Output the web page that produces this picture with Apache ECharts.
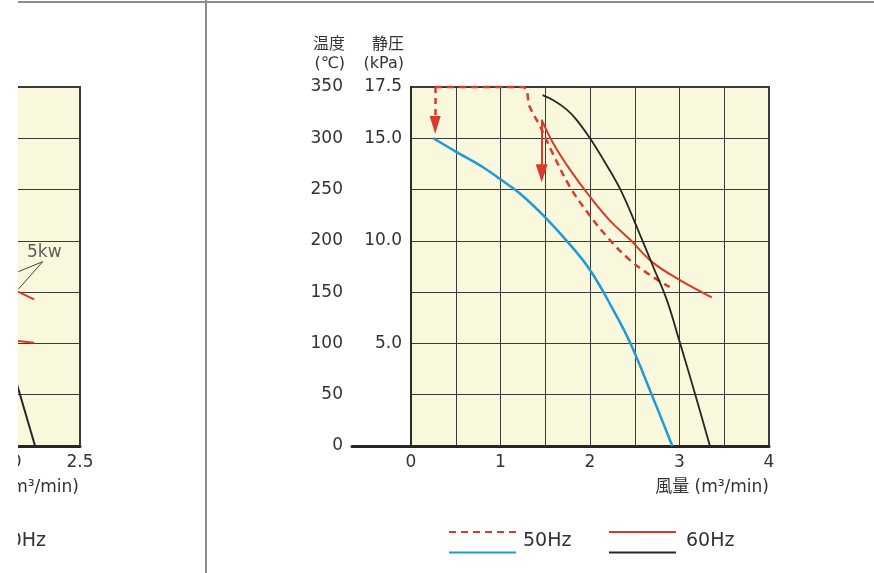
<!DOCTYPE html>
<html><head><meta charset="utf-8">
<script src="https://cdn.jsdelivr.net/npm/echarts@6/dist/echarts.min.js"></script>
<style>html,body{margin:0;padding:0;background:#fff}#c{width:874px;height:573px}</style>
</head><body><div id="c"></div>
<script>
// ---- tick labels ----
const xTicks = [0, 1, 2, 3, 4];
const tempTicks = [0, 50, 100, 150, 200, 250, 300, 350];
const pressTicks = [5, 10, 15, 17.5];

// ---- main chart data: [風量 m3/min, value] ----
// 50Hz temperature (red dashed, °C)
const temp50 = [[0.27,350],[1.24,350],[1.33,330],[1.44,312],[1.59,284],[1.78,252],[1.97,228],[2.19,204],[2.45,181],[2.70,165],[2.89,155]];
// 60Hz temperature (red solid, °C)
const temp60 = [[1.46,318],[1.59,295],[1.78,269],[2.0,243],[2.22,220],[2.45,201],[2.70,179],[3.0,162],[3.36,145]];
// 50Hz static pressure (blue, kPa)
const press50 = [[0.25,15.0],[0.5,14.35],[0.8,13.6],[1.0,13.0],[1.22,12.3],[1.5,11.15],[1.75,9.95],[2.0,8.58],[2.26,6.63],[2.45,5.02],[2.7,2.39],[2.92,0]];
// 60Hz static pressure (black, kPa)
const press60 = [[1.47,17.1],[1.59,16.85],[1.74,16.4],[1.85,15.9],[2.0,15.0],[2.15,13.95],[2.34,12.5],[2.53,10.6],[2.7,8.8],[2.86,7.1],[3.0,5.1],[3.17,2.6],[3.34,0]];
// arrows (annotation lines)
const arrow50 = [[0.27,350],[0.27,313]];
const arrow60 = [[1.46,318],[1.46,266]];

// ---- neighbouring (cut-off) chart on the left ----
const leftX = [2.0, 2.5];
const leftBlack = [[2.04,71],[2.188,0]];
const leftRedA = [[2.069,150.5],[2.181,143]];
const leftRedB = [[2.069,102.4],[2.181,100.7]];
const leftLeader = [[2.0715,169.9],[2.241,179.7],[2.0715,152.8]];
const leftLabel = [[2.252,189,'5kw']];

const CJK = '"Noto Sans CJK JP","Noto Sans",sans-serif';
const NUM = '"DejaVu Sans","Noto Sans CJK JP",sans-serif';
const RED = '#d83b2b', BLUE = '#1e9bd7', BLACK = '#262626', GRIDC = '#3a3a3a', BG = '#f9f7dc', TXT = '#333';

const chart = echarts.init(document.getElementById('c'));
const titleStyle = (fs) => ({ fontFamily: NUM, fontSize: fs, fontWeight: 'normal', color: TXT });
const option = {
  animation: false,
  backgroundColor: '#fff',
  textStyle: { fontFamily: NUM },
  grid: [
    { left: 411, right: 105, top: 87, bottom: 127, show: true, backgroundColor: BG, borderColor: GRIDC, borderWidth: 2, outerBoundsMode: 'none' },
    { left: 352, width: 59, top: 87, bottom: 127, outerBoundsMode: 'none' },
    { left: 8, width: 72, top: 87, bottom: 127, show: true, backgroundColor: BG, borderColor: GRIDC, borderWidth: 2, outerBoundsMode: 'none' }
  ],
  title: [
    { text: '50Hz', left: 523, top: 532, padding: 0, textStyle: titleStyle(19) },
    { text: '60Hz', left: 686, top: 532, padding: 0, textStyle: titleStyle(19) },
    { text: '風量 (m³/min)', right: 795, top: 479, padding: 0, textStyle: titleStyle(17) },
    { text: '60Hz', right: 828, top: 532, padding: 0, textStyle: titleStyle(19) }
  ],
  legend: [
    { left: 443, top: 520, orient: 'vertical', itemWidth: 67, itemHeight: 14, itemGap: 8, data: ['50Hz 温度', '50Hz 静圧'],
      formatter: () => '', selectedMode: false, itemStyle: { opacity: 0 } },
    { left: 603, top: 520, orient: 'vertical', itemWidth: 67, itemHeight: 14, itemGap: 8, data: ['60Hz 温度', '60Hz 静圧'],
      formatter: () => '', selectedMode: false, itemStyle: { opacity: 0 } }
  ],
  xAxis: [
    { gridIndex: 0, type: 'value', min: 0, max: 4, interval: 0.5,
      axisLine: { show: true, lineStyle: { color: '#262626', width: 3 } },
      axisTick: { show: false },
      axisLabel: { formatter: v => xTicks.includes(v) ? String(v) : '', fontSize: 17, color: TXT, margin: 8, fontFamily: NUM },
      splitLine: { show: true, lineStyle: { color: GRIDC, width: 1 } },
      name: '風量 (m³/min)', nameLocation: 'end', nameGap: 0,
      nameTextStyle: { align: 'right', verticalAlign: 'top', padding: [33, 0, 0, 0], fontSize: 17, color: TXT, fontFamily: NUM } },
    { gridIndex: 1, type: 'value', min: 0, max: 1,
      axisLine: { show: true, lineStyle: { color: '#262626', width: 3 } },
      axisTick: { show: false }, axisLabel: { show: false }, splitLine: { show: false } },
    { gridIndex: 2, type: 'value', min: leftX[0], max: leftX[1], interval: 0.5,
      axisLine: { show: true, lineStyle: { color: '#262626', width: 3 } },
      axisTick: { show: false },
      axisLabel: { formatter: v => v.toFixed(1), fontSize: 17, color: TXT, margin: 8, fontFamily: NUM, showMinLabel: true, showMaxLabel: true, hideOverlap: false },
      splitLine: { show: false } }
  ],
  yAxis: [
    { gridIndex: 0, type: 'value', position: 'left', offset: 59, min: 0, max: 350, interval: 50,
      axisLine: { show: true, lineStyle: { color: '#2a2a2a', width: 2 } },
      axisTick: { show: false },
      axisLabel: { formatter: v => tempTicks.includes(v) ? String(v) : '', fontSize: 17, color: TXT, margin: 9, fontFamily: NUM },
      splitLine: { show: true, lineStyle: { color: GRIDC, width: 1 } },
      name: '温度\n(℃)', nameLocation: 'end', nameGap: 14,
      nameTextStyle: { align: 'right', verticalAlign: 'bottom', fontSize: 16, lineHeight: 19, color: TXT, fontFamily: NUM, padding: [0, 66, 0, 0] } },
    { gridIndex: 0, type: 'value', position: 'left', offset: 0, min: 0, max: 17.5, interval: 2.5,
      axisLine: { show: false }, axisTick: { show: false },
      axisLabel: { formatter: v => pressTicks.includes(v) ? v.toFixed(1) : '', fontSize: 17, color: TXT, margin: 9, fontFamily: NUM },
      splitLine: { show: false },
      name: '静圧\n(kPa)', nameLocation: 'end', nameGap: 14,
      nameTextStyle: { align: 'right', verticalAlign: 'bottom', fontSize: 16, lineHeight: 19, color: TXT, fontFamily: NUM, padding: [0, 7, 0, 0] } },
    { gridIndex: 1, type: 'value', show: false, min: 0, max: 1 },
    { gridIndex: 2, type: 'value', min: 0, max: 350, interval: 50,
      axisLine: { show: false }, axisTick: { show: false }, axisLabel: { show: false },
      splitLine: { show: true, lineStyle: { color: GRIDC, width: 1 } } }
  ],
  series: [
    { name: '50Hz 温度', type: 'line', xAxisIndex: 0, yAxisIndex: 0, data: temp50, symbol: 'none', clip: false,
      smooth: 0.4, color: RED,
      lineStyle: { color: RED, width: 2.5, type: [7, 5] },
      markLine: { silent: true, symbol: ['none', 'triangle'], symbolSize: [11, 18], label: { show: false },
        lineStyle: { color: RED, width: 2.5, type: [6, 5] },
        data: [[{ coord: arrow50[0] }, { coord: arrow50[1] }]] } },
    { name: '60Hz 温度', type: 'line', xAxisIndex: 0, yAxisIndex: 0, data: temp60, symbol: 'none', clip: false,
      smooth: 0.4, color: RED,
      lineStyle: { color: RED, width: 2 },
      markLine: { silent: true, symbol: ['none', 'triangle'], symbolSize: [12, 18], label: { show: false },
        lineStyle: { color: RED, width: 2, type: 'solid' },
        data: [[{ coord: arrow60[0] }, { coord: arrow60[1] }]] } },
    { name: '50Hz 静圧', type: 'line', xAxisIndex: 0, yAxisIndex: 1, data: press50, symbol: 'none',
      smooth: 0.4, color: BLUE, lineStyle: { color: BLUE, width: 2.5 } },
    { name: '60Hz 静圧', type: 'line', xAxisIndex: 0, yAxisIndex: 1, data: press60, symbol: 'none', clip: false,
      smooth: 0.4, color: BLACK, lineStyle: { color: BLACK, width: 1.8 } },
    // left, cut-off chart
    { name: 'L黒', type: 'line', xAxisIndex: 2, yAxisIndex: 3, data: leftBlack, symbol: 'none', lineStyle: { color: BLACK, width: 2 } },
    { name: 'L赤A', type: 'line', xAxisIndex: 2, yAxisIndex: 3, data: leftRedA, symbol: 'none', lineStyle: { color: RED, width: 2 } },
    { name: 'L赤B', type: 'line', xAxisIndex: 2, yAxisIndex: 3, data: leftRedB, symbol: 'none', lineStyle: { color: RED, width: 2 } },
    { name: 'L引出', type: 'line', xAxisIndex: 2, yAxisIndex: 3, data: leftLeader, symbol: 'none', lineStyle: { color: '#444', width: 1 } },
    { name: 'Lラベル', type: 'scatter', xAxisIndex: 2, yAxisIndex: 3, data: leftLabel, symbolSize: 0,
      label: { show: true, position: 'inside', formatter: p => p.value[2], fontSize: 17, color: TXT, fontFamily: NUM } }
  ],
  graphic: [
    { type: 'rect', z: 100, shape: { x: 0, y: 0, width: 18, height: 573 }, style: { fill: '#fff' } },
    { type: 'line', z: 100, shape: { x1: 18, y1: 2, x2: 874, y2: 2 }, style: { stroke: '#666', lineWidth: 1.5 } },
    { type: 'line', z: 100, shape: { x1: 206, y1: 0, x2: 206, y2: 573 }, style: { stroke: '#8c8c8c', lineWidth: 2 } }
  ]
};
chart.setOption(option);
</script>
</body></html>
